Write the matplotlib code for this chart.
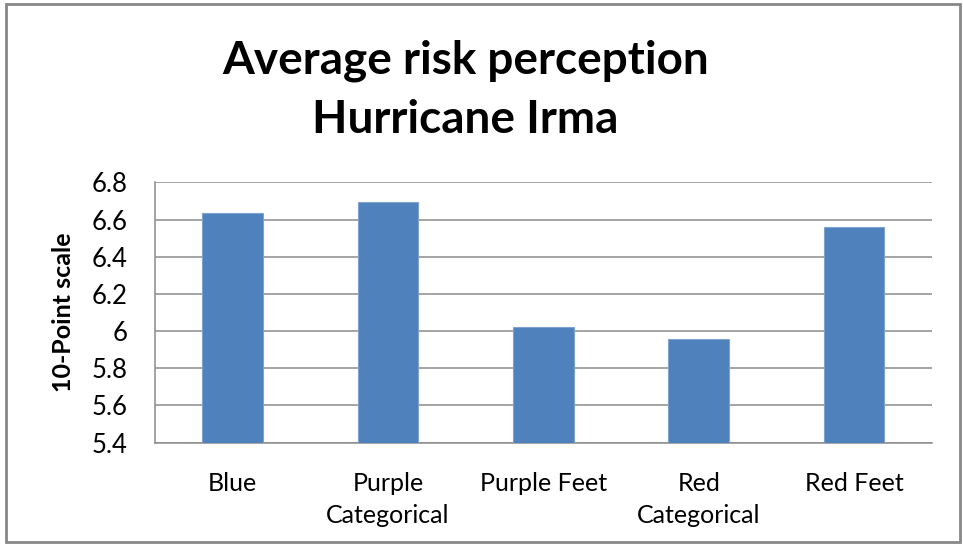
import matplotlib
matplotlib.use('Agg')
import matplotlib.pyplot as plt
from matplotlib.patches import Rectangle

categories = ["Blue", "Purple\nCategorical", "Purple Feet", "Red\nCategorical", "Red Feet"]
scores = [6.633, 6.696, 6.02, 5.956, 6.558]
y_ticks = [5.4, 5.6, 5.8, 6.0, 6.2, 6.4, 6.6, 6.8]
y_tick_labels = ["5.4", "5.6", "5.8", "6", "6.2", "6.4", "6.6", "6.8"]

plain = ['Lato', 'DejaVu Sans']

fig = plt.figure(figsize=(9.63, 5.46), dpi=100)
ax = fig.add_axes([0.161, 0.1892, 0.8065, 0.4769])

ax.bar(range(len(categories)), scores, width=0.39, color='#4f81bd',
       edgecolor='#7ea3cf', linewidth=0.8, zorder=3)
ax.set_xlim(-0.5, len(categories) - 0.5)
ax.set_ylim(5.4, 6.8)

ax.set_yticks(y_ticks)
ax.set_yticklabels(y_tick_labels, family=plain, fontsize=18.5)
ax.set_xticks(range(len(categories)))
ax.set_xticklabels(categories, family=plain, fontsize=18, linespacing=1.5)
ax.tick_params(axis='y', length=0, pad=20)
ax.tick_params(axis='x', length=0, pad=21)

ax.yaxis.grid(True, color='#8c8c8c', linewidth=1.1, zorder=0)
for side in ['top', 'right']:
    ax.spines[side].set_visible(False)
for side in ['left', 'bottom']:
    ax.spines[side].set_color('#8c8c8c')
    ax.spines[side].set_linewidth(1.1)

fig.text(0.066, 1 - 312 / 546, "10-Point scale", rotation=90, ha='center', va='center',
         family=plain, fontweight='bold', fontsize=18)

fig.text(0.483, 1 - 73 / 546, "Average risk perception", ha='center', va='baseline',
         family=plain, fontweight='bold', fontsize=33)
fig.text(0.483, 1 - 133 / 546, "Hurricane Irma", ha='center', va='baseline',
         family=plain, fontweight='bold', fontsize=33)

# outer chart frame
fig.patches.append(Rectangle((6 / 963, 4 / 546), 954 / 963, 538 / 546,
                             transform=fig.transFigure, fill=False,
                             edgecolor='#888888', linewidth=2))

fig.savefig('out.png', dpi=100)
